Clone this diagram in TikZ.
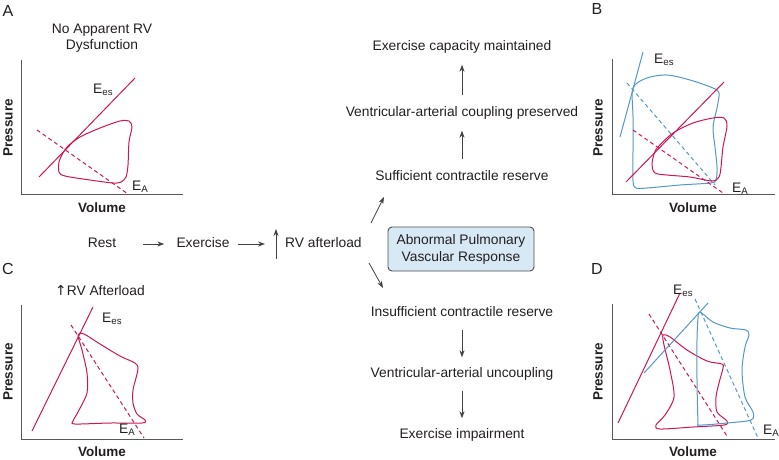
\documentclass[tikz,border=0pt]{standalone}
\usepackage{fontspec}
\setmainfont{Liberation Sans}
\newfontfamily\symfont{DejaVu Sans}
\usepackage{tikz}
\usetikzlibrary{arrows,arrows.meta,positioning}
\usepackage{xcolor}
\definecolor{pvred}{RGB}{204,22,88}
\definecolor{pvblue}{RGB}{82,152,200}
\definecolor{pvbox}{RGB}{216,233,246}
\definecolor{pvtext}{RGB}{35,31,32}
\tikzstyle{flow} = [-{Stealth[length=7pt,width=5pt]},line width=0.8pt,color=pvtext!85]
\tikzstyle{lbl} = [font=\fontsize{13.8}{16}\selectfont,text=pvtext,inner sep=0pt,text height=10pt,text depth=3pt]
\tikzstyle{title} = [font=\fontsize{13.8}{16}\selectfont,text=pvtext,inner sep=0pt,align=center]
\tikzstyle{panel} = [font=\fontsize{16}{18}\selectfont,text=pvtext,inner sep=0pt]
\tikzstyle{elbl} = [font=\fontsize{13.8}{16}\selectfont,text=pvtext,inner sep=0pt,anchor=base west]
\tikzstyle{pvaxis} = [line width=0.9pt,color=pvtext!75]
\tikzstyle{axlbl} = [font=\fontsize{13.5}{16}\selectfont\bfseries,text=pvtext,inner sep=0pt]
\tikzstyle{pvloop} = [line width=1pt,smooth cycle,tension=0.5]
\tikzstyle{esline} = [line width=1pt]
\tikzstyle{ealine} = [line width=1pt,dash pattern=on 4pt off 3pt]

\begin{document}
\begin{tikzpicture}[x=1pt,y=-1pt]
\useasboundingbox (0,0) rectangle (779,459);

% Panel A
\node[panel] (labA) at (8,11) {A};
\node[title] (titA) at (102,38) {No Apparent RV\\Dysfunction};
\draw[pvaxis] (21,60) -- (21,194) -- (183,194);
\node[axlbl,rotate=90] (presA) at (8,128) {Pressure};
\node[axlbl] (volA) at (102,208) {Volume};
\draw[esline,pvred] (39,177) -- (135,78);
\draw[ealine,pvred] (37,130) -- (128,194);
\draw[pvloop,pvred] plot coordinates {(68,146) (80,137) (100,128) (120,121) (129,121) (132,127) (129,142) (128,165) (126,177) (121,182) (113,183) (90,180) (65,176) (59,172) (59,162) (63,153)};
\node[elbl] (eesA) at (93,93) {E\textsubscript{es}};
\node[elbl] (eaA) at (132,190) {E\textsubscript{A}};

% Panel B
\node[panel] (labB) at (597,9) {B};
\draw[pvaxis] (612,59) -- (612,194) -- (775,194);
\node[axlbl,rotate=90] (presB) at (598,128) {Pressure};
\node[axlbl] (volB) at (693,208) {Volume};
\draw[esline,pvblue] (620,137) -- (643,52);
\draw[ealine,pvblue] (627,83) -- (715,185);
\draw[pvloop,pvblue] plot coordinates {(633,88) (647,78) (667,75) (690,80) (713,88) (719,93) (717,108) (713,127) (715,147) (717,167) (716,180) (710,183) (680,185) (647,188) (636,188) (633,181) (633,150) (633,117)};
\draw[esline,pvred] (626,182) -- (724,82);
\draw[ealine,pvred] (633,130) -- (723,193);
\draw[pvloop,pvred] plot coordinates {(658,147) (673,133) (693,123) (713,118) (724,118) (727,126) (723,147) (721,167) (719,177) (712,181) (690,177) (667,175) (655,173) (652,165) (654,154)};
\node[elbl] (eesB) at (654,63) {E\textsubscript{es}};
\node[elbl] (eaB) at (732,192) {E\textsubscript{A}};

% Panel C
\node[panel] (labC) at (8,269) {C};
\node[title] (titC) at (100,291) {{\symfont ↑}RV Afterload};
\draw[pvaxis] (21,305) -- (21,439) -- (183,439);
\node[axlbl,rotate=90] (presC) at (8,372) {Pressure};
\node[axlbl] (volC) at (102,452) {Volume};
\draw[esline,pvred] (32,431) -- (93,307);
\draw[ealine,pvred] (71,325) -- (144,438);
\draw[pvloop,pvred] plot coordinates {(78,335) (84,334) (100,344) (120,356) (135,363) (138,368) (136,378) (133,390) (133,403) (137,414) (145,420) (142,423) (110,423) (75,424) (73,421) (78,412) (87,393) (87,373) (82,350)};
\node[elbl] (eesC) at (102,322) {E\textsubscript{es}};
\node[elbl] (eaC) at (119,433) {E\textsubscript{A}};

% Panel D
\node[panel] (labD) at (597,269) {D};
\draw[pvaxis] (612,304) -- (612,439) -- (775,439);
\node[axlbl,rotate=90] (presD) at (598,372) {Pressure};
\node[axlbl] (volD) at (693,452) {Volume};
\draw[esline,pvred] (618,423) -- (680,293);
\draw[ealine,pvred] (649,314) -- (727,436);
\draw[pvloop,pvred] plot coordinates {(663,335) (670,337) (687,350) (707,361) (722,364) (723,368) (719,383) (716,397) (717,412) (727,421) (724,425) (693,427) (660,429) (656,425) (665,415) (674,397) (670,370) (664,345)};
\draw[esline,pvblue] (644,373) -- (708,303);
\draw[ealine,pvblue] (695,299) -- (758,438);
\draw[pvloop,pvblue] plot coordinates {(700,312) (713,322) (730,328) (746,330) (749,335) (745,347) (742,370) (745,397) (753,412) (751,420) (727,423) (700,425) (698,421) (697,380) (697,340) (698,318)};
\node[elbl] (eesD) at (673,294) {E\textsubscript{es}};
\node[elbl] (eaD) at (763,434) {E\textsubscript{A}};

% Flow in the middle
\node[lbl] (rest) at (102,244) {Rest};
\node[lbl] (exer) at (203,244) {Exercise};
\node[lbl,anchor=west] (rvaft) at (285,244) {RV afterload};
\coordinate (upbot) at (276,259);
\coordinate (uptop) at (276,229);
\draw[flow] ([xshift=27pt]rest.east) -- ([xshift=-12pt]exer.west);
\draw[flow] ([xshift=8pt]exer.east) -- ([xshift=-20pt]rvaft.west);
\draw[flow] (upbot) -- (uptop);

\node[draw=pvtext!80,line width=0.9pt,fill=pvbox,rounded corners=4pt,minimum width=146pt,minimum height=44pt,align=center,font=\fontsize{13.8}{17}\selectfont,text=pvtext] (apvr) at (461,249) {Abnormal Pulmonary\\Vascular Response};

\node[lbl] (cap) at (462,47) {Exercise capacity maintained};
\node[lbl] (coup) at (462,113) {Ventricular-arterial coupling preserved};
\node[lbl] (suff) at (462,177) {Sufficient contractile reserve};
\node[lbl] (insuf) at (462,313) {Insufficient contractile reserve};
\node[lbl] (uncoup) at (462,374) {Ventricular-arterial uncoupling};
\node[lbl] (impair) at (462,435) {Exercise impairment};

\coordinate (splitup) at (371,223);
\coordinate (suffin) at (384,197);
\coordinate (splitdn) at (369,263);
\coordinate (insufin) at (383,288);
\draw[flow] (splitup) -- (suffin);
\draw[flow] (splitdn) -- (insufin);

\draw[flow,shorten <=11pt,shorten >=11pt] (suff) -- (coup);
\draw[flow,shorten <=11pt,shorten >=11pt] (coup) -- (cap);
\draw[flow,shorten <=10pt,shorten >=10pt] (insuf) -- (uncoup);
\draw[flow,shorten <=10pt,shorten >=10pt] (uncoup) -- (impair);
\end{tikzpicture}
\end{document}
